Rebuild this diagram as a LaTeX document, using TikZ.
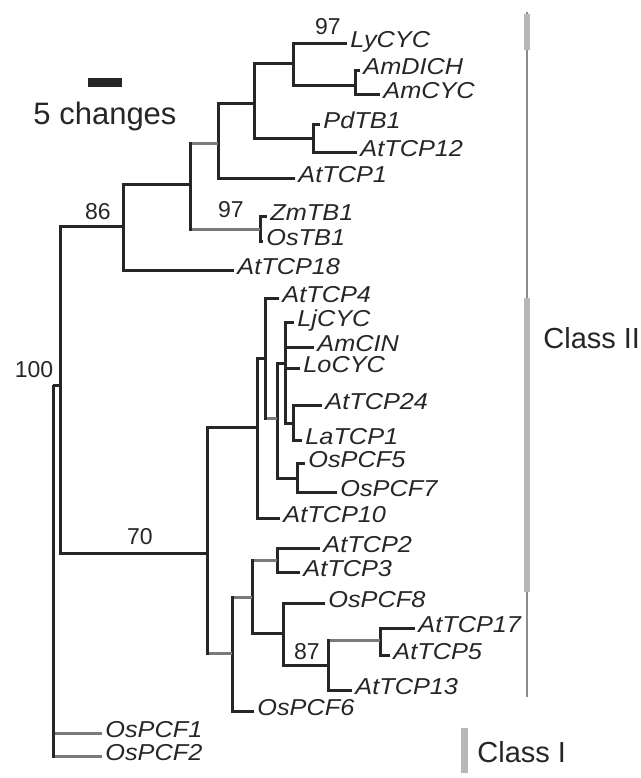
\documentclass[tikz,border=0pt]{standalone}
\usepackage{fontspec}
\setmainfont{Liberation Sans}
\newfontfamily\leaffont[FakeStretch=1.1]{Liberation Sans}
\usetikzlibrary{positioning}
\definecolor{treeink}{HTML}{262626}
\definecolor{treegrey}{HTML}{7A7A7A}
\definecolor{barlight}{HTML}{B8B8B8}
\definecolor{bardark}{HTML}{8A8A8A}
\tikzset{
  br/.style={line width=1.5pt, draw=treeink},
  gbr/.style={line width=1.5pt, draw=treegrey, shorten <=0.75pt},
  leaf/.style={anchor=west, inner sep=1.5pt, text=treeink, text height=8pt, text depth=4pt,
               font=\leaffont\itshape\fontsize{11.5}{12}\selectfont},
  boot/.style={inner sep=1pt, text=treeink, font=\fontsize{11.5}{12}\selectfont},
  clsbar/.style={line width=1.2pt, draw=bardark},
  clsbarw/.style={line width=3pt, draw=barlight},
  cls/.style={anchor=west, inner sep=0pt, text=treeink, font=\fontsize{14.5}{16}\selectfont},
}

\begin{document}
\begin{tikzpicture}[x=0.5pt, y=-0.5pt]
  \useasboundingbox (0,0) rectangle (641,778);

  % scale bar
  \coordinate (sbl) at (88,82);
  \coordinate (sbr) at (122,82);
  \coordinate (sbmid) at (105,82);
  \draw[line width=4.5pt, draw=treeink] (sbl) -- (sbr);
  \node[inner sep=0pt, text=treeink, font=\fontsize{15.5}{17}\selectfont, below=10pt of sbmid] (sbtext) {5 changes};

  % internal nodes
  \coordinate (root) at (53,385);
  \coordinate (n100) at (60,385);
  \coordinate (n86) at (123,226);
  \coordinate (n70) at (207,553);
  \coordinate (na) at (190,184);
  \coordinate (nb) at (218,143);
  \coordinate (nc) at (254,103);
  \coordinate (nd) at (293,63);
  \coordinate (ne) at (355,85);
  \coordinate (nf) at (313,138);
  \coordinate (ng) at (260,229);
  \coordinate (nh) at (257,427);
  \coordinate (ni) at (265,358);
  \coordinate (nj) at (277,418);
  \coordinate (nk) at (285,363);
  \coordinate (nl) at (293,423);
  \coordinate (nm) at (297,478);
  \coordinate (nn) at (232,653);
  \coordinate (no) at (252,597);
  \coordinate (np) at (277,560);
  \coordinate (nq) at (283,633);
  \coordinate (nr) at (328,665);
  \coordinate (ns) at (380,640);

  % leaves
  \node[leaf] (lycyc) at (347,43) {LyCYC};
  \node[leaf] (amdich) at (360,70) {AmDICH};
  \node[leaf] (amcyc) at (380,94) {AmCYC};
  \node[leaf] (pdtb1) at (320,124) {PdTB1};
  \node[leaf] (attcp12) at (357,152) {AtTCP12};
  \node[leaf] (attcp1) at (295,178) {AtTCP1};
  \node[leaf] (zmtb1) at (267,216) {ZmTB1};
  \node[leaf] (ostb1) at (263,241) {OsTB1};
  \node[leaf] (attcp18) at (234,270) {AtTCP18};
  \node[leaf] (attcp4) at (279,298) {AtTCP4};
  \node[leaf] (ljcyc) at (294,322) {LjCYC};
  \node[leaf] (amcin) at (314,347) {AmCIN};
  \node[leaf] (locyc) at (300,368) {LoCYC};
  \node[leaf] (attcp24) at (322,405) {AtTCP24};
  \node[leaf] (latcp1) at (302,440) {LaTCP1};
  \node[leaf] (ospcf5) at (305,463) {OsPCF5};
  \node[leaf] (ospcf7) at (337,492) {OsPCF7};
  \node[leaf] (attcp10) at (280,518) {AtTCP10};
  \node[leaf] (attcp2) at (320,548) {AtTCP2};
  \node[leaf] (attcp3) at (300,572) {AtTCP3};
  \node[leaf] (ospcf8) at (325,603) {OsPCF8};
  \node[leaf] (attcp17) at (415,628) {AtTCP17};
  \node[leaf] (attcp5) at (390,655) {AtTCP5};
  \node[leaf] (attcp13) at (352,690) {AtTCP13};
  \node[leaf] (ospcf6) at (254,711) {OsPCF6};
  \node[leaf] (ospcf1) at (102,733) {OsPCF1};
  \node[leaf] (ospcf2) at (102,756) {OsPCF2};

  % branches
  \foreach \p/\c in {root/n100, root/ospcf1, root/ospcf2, n100/n86, n100/n70,
      n86/na, n86/attcp18, na/nb, na/ng, nb/nc, nb/attcp1, nc/nd, nc/nf,
      nd/lycyc, nd/ne, ne/amdich, ne/amcyc, nf/pdtb1, nf/attcp12, ng/zmtb1, ng/ostb1,
      n70/nh, n70/nn, nh/ni, nh/attcp10, ni/attcp4, ni/nj, nj/nk, nj/nm,
      nk/ljcyc, nk/amcin, nk/locyc, nk/nl, nl/attcp24, nl/latcp1, nm/ospcf5, nm/ospcf7,
      nn/no, nn/ospcf6, no/np, no/nq, np/attcp2, np/attcp3, nq/ospcf8, nq/nr,
      nr/ns, nr/attcp13, ns/attcp17, ns/attcp5}
    \draw[br] (\p) |- (\c);
  % faint branches
  \foreach \p/\c in {root/ospcf1, root/ospcf2, na/nb, na/ng, ni/nj, n70/nn, nn/no, no/np, nr/ns}
    \draw[gbr] (\p |- \c) -- (\c);

  % bootstrap values
  \node[boot] (b97a) at (328,27) {97};
  \node[boot] (b86) at (98,212) {86};
  \node[boot] (b97b) at (231,210) {97};
  \node[boot] (b100) at (34,370) {100};
  \node[boot] (b70) at (140,537) {70};
  \node[boot] (b87) at (307,652) {87};

  % classes
  \coordinate (c2top) at (527,12);
  \coordinate (c2bot) at (527,697);
  \draw[clsbar] (c2top) -- (c2bot);
  \draw[clsbarw] (527,14) -- (527,50);
  \draw[clsbarw] (527,298) -- (527,592);
  \node[cls] (class2) at (543,338) {Class II};
  \coordinate (c1top) at (464,728);
  \coordinate (c1bot) at (464,773);
  \draw[clsbarw, line width=3.5pt] (c1top) -- (c1bot);
  \node[cls] (class1) at (477,752) {Class I};
\end{tikzpicture}
\end{document}
